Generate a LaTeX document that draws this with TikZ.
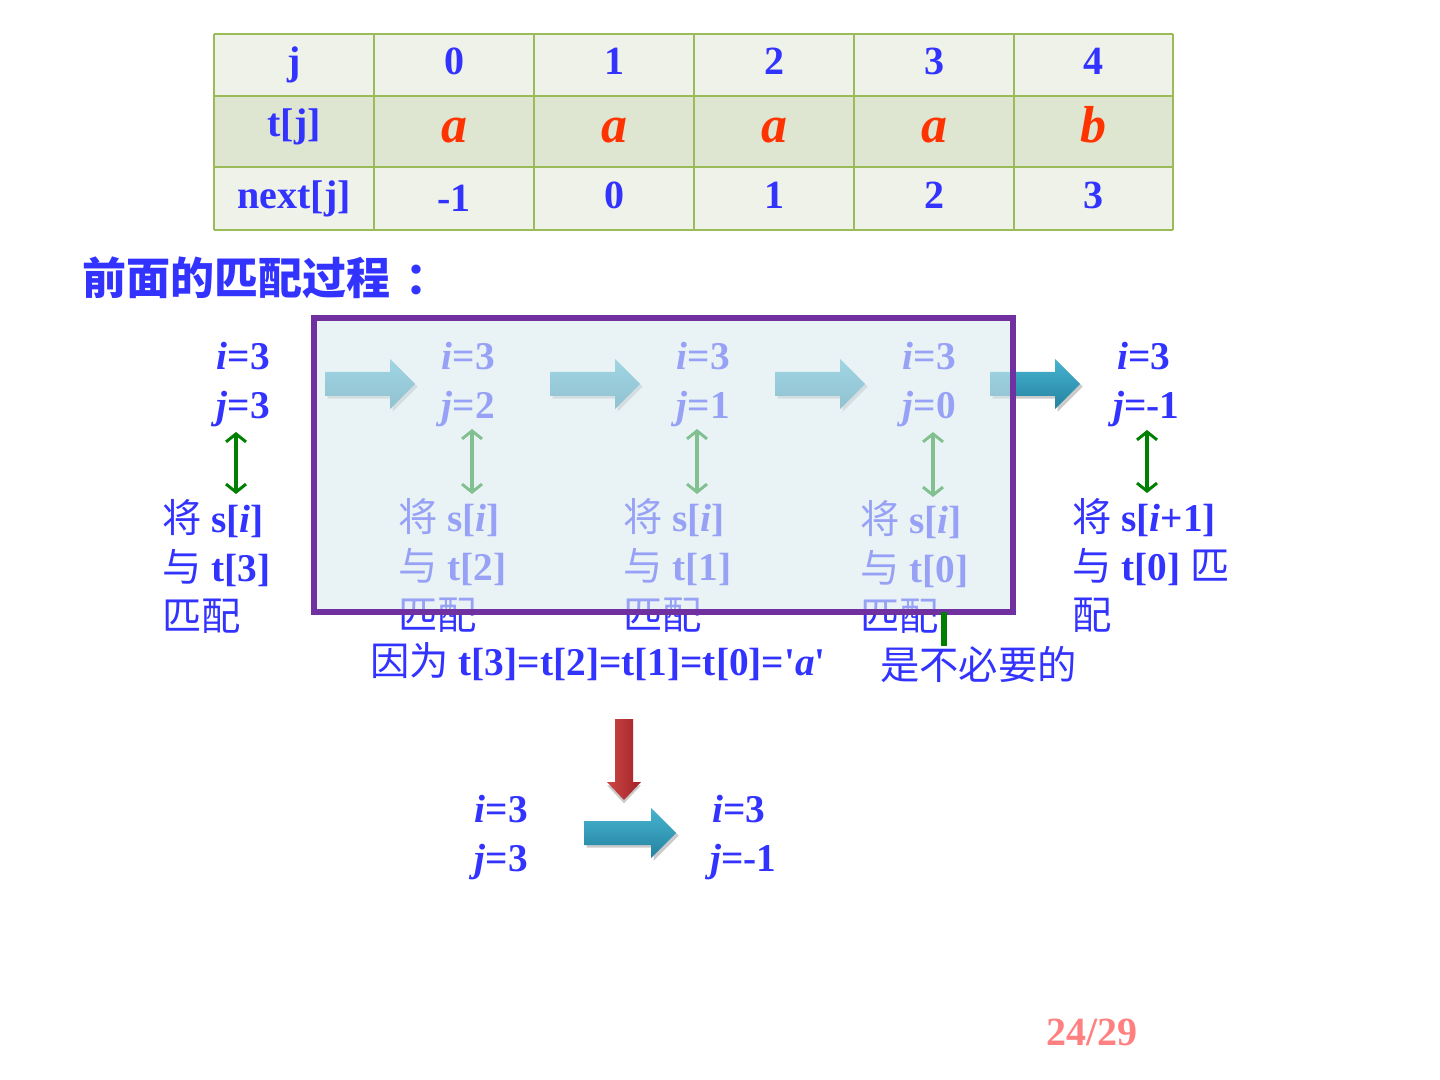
\documentclass[tikz,border=0pt]{standalone}
\usepackage{fontspec}
\setmainfont{Liberation Serif}
\newfontfamily\rmplain{Liberation Serif}
\newfontfamily\cjk{Noto Sans CJK SC}
\usetikzlibrary{arrows.meta,shadows}
\definecolor{txtblue}{RGB}{51,51,255}
\definecolor{aorange}{RGB}{255,51,0}
\definecolor{rowl}{RGB}{238,242,232}
\definecolor{rowd}{RGB}{222,229,208}
\definecolor{tabline}{RGB}{155,187,89}
\definecolor{boxpurple}{RGB}{112,48,160}
\definecolor{boxfill}{RGB}{219,236,241}
\definecolor{mgreen}{RGB}{0,128,0}
\definecolor{tealtop}{RGB}{70,180,208}
\definecolor{tealbot}{RGB}{36,130,160}
\definecolor{redtop}{RGB}{205,70,70}
\definecolor{redbot}{RGB}{160,35,40}
\definecolor{pagered}{RGB}{255,128,128}
\newcommand\zh[1]{{\cjk\mdseries #1}}
\newcommand\sq{{\rmplain\upshape '}}
\newcommand\rarr[3]{\path[tealarr] (#1,#3-12) -- (#2-25,#3-12) -- (#2-25,#3-25) -- (#2,#3) -- (#2-25,#3+25) -- (#2-25,#3+12) -- (#1,#3+12) -- cycle;}
\begin{document}
\begin{tikzpicture}[x=0.75pt,y=-0.75pt,
  tcell/.style={anchor=base,inner sep=0,text=txtblue,font=\bfseries\fontsize{30}{32}\selectfont},
  acell/.style={anchor=base,inner sep=0,text=aorange,font=\bfseries\itshape\fontsize{39}{44}\selectfont},
  body/.style={anchor=base west,inner sep=0,text=txtblue,font=\bfseries\fontsize{29.5}{36}\selectfont},
  bodyr/.style={body,anchor=base east},
  tabrule/.style={draw=tabline,line width=1.5pt},
  dbl/.style={draw=mgreen,line width=3pt,{Straight Barb[length=6pt,width=15pt,line width=2.2pt]}-{Straight Barb[length=6pt,width=15pt,line width=2.2pt]}},
  tealarr/.style={top color=tealtop,bottom color=tealbot,drop shadow={shadow xshift=2pt,shadow yshift=-2pt,fill=black!45,opacity=0.45}},
  redarr/.style={left color=redtop,right color=redbot,drop shadow={shadow xshift=0pt,shadow yshift=-2.5pt,fill=black!45,opacity=0.45}}]
\useasboundingbox (0,0) rectangle (1440,1080);
\fill[white] (0,0) rectangle (1440,1080);
% ---- table
\fill[rowl] (214,34) rectangle (1173,96);
\fill[rowd] (214,96) rectangle (1173,167);
\fill[rowl] (214,167) rectangle (1173,230);
\foreach \x in {214,374,534,694,854,1014,1173} \draw[tabrule] (\x,34) -- (\x,230);
\foreach \y in {34,96,167,230} \draw[tabrule] (214,\y) -- (1173,\y);
\node[tcell] (h0) at (294,75) {j};
\foreach \x/\t [count=\k] in {454/0,614/1,774/2,934/3,1093/4}
  \node[tcell] (h\k) at (\x,75) {\t};
\node[tcell] (t0) at (294,137) {t[j]};
\foreach \x/\t [count=\k] in {454/a,614/a,774/a,934/a,1093/b}
  \node[acell] (t\k) at (\x,143) {\t};
\node[tcell] (n0) at (294,209) {next[j]};
\node[tcell] (n1) at (454,212) {-1};
\foreach \x/\t [count=\k from 2] in {614/0,774/1,934/2,1093/3}
  \node[tcell] (n\k) at (\x,209) {\t};
% ---- title
\node[anchor=west,inner sep=0,text=txtblue,font=\cjk\bfseries\fontsize{33}{36}\selectfont] (title) at (82,278) {前面的匹配过程\kern0.35em：};
% ---- top row states
\node[bodyr] (v0i) at (270,370) {\textit{i}=3};
\node[bodyr] (v0j) at (270,419) {\textit{j}=3};
\node[bodyr] (v1i) at (495,370) {\textit{i}=3};
\node[bodyr] (v1j) at (495,419) {\textit{j}=2};
\node[bodyr] (v2i) at (730,370) {\textit{i}=3};
\node[bodyr] (v2j) at (730,419) {\textit{j}=1};
\node[bodyr] (v3i) at (956,370) {\textit{i}=3};
\node[bodyr] (v3j) at (956,419) {\textit{j}=0};
\node[body] (v4i) at (1117,370) {\textit{i}=3};
\node[body] (v4j) at (1113,419) {\textit{j}=-1};
% ---- block arrows top
\rarr{325}{415}{384}
\rarr{550}{640}{384}
\rarr{775}{865}{384}
\rarr{990}{1080}{384}
% ---- double arrows
\coordinate (a0t) at (236,432); \coordinate (a0b) at (236,494);
\coordinate (a1t) at (472,429); \coordinate (a1b) at (472,494);
\coordinate (a2t) at (697,429); \coordinate (a2b) at (697,494);
\coordinate (a3t) at (933,432); \coordinate (a3b) at (933,497);
\coordinate (a4t) at (1147,430); \coordinate (a4b) at (1147,493);
\foreach \k in {0,...,4} \draw[dbl] (a\k t) -- (a\k b);
% ---- match texts
\node[body] (m0a) at (162,533) {\zh{将} s[\textit{i}]};
\node[body] (m0b) at (162,582) {\zh{与} t[3]};
\node[body] (m0c) at (162,630) {\zh{匹配}};
\node[body] (m1a) at (398,532) {\zh{将} s[\textit{i}]};
\node[body] (m1b) at (398,581) {\zh{与} t[2]};
\node[body] (m1c) at (398,629) {\zh{匹配}};
\node[body] (m2a) at (623,532) {\zh{将} s[\textit{i}]};
\node[body] (m2b) at (623,581) {\zh{与} t[1]};
\node[body] (m2c) at (623,629) {\zh{匹配}};
\node[body] (m3a) at (860,534) {\zh{将} s[\textit{i}]};
\node[body] (m3b) at (860,583) {\zh{与} t[0]};
\node[body] (m3c) at (860,631) {\zh{匹配}};
\node[body] (m4a) at (1072,532) {\zh{将} s[\textit{i}+1]};
\node[body] (m4b) at (1072,581) {\zh{与} t[0] \zh{匹}};
\node[body] (m4c) at (1072,629) {\zh{配}};
% ---- overlay box
\fill[boxfill,opacity=0.6] (314,318) rectangle (1013,612);
\draw[boxpurple,line width=4.5pt] (314,318) rectangle (1013,612);
\coordinate (gl) at (944,612);
\coordinate (gl2) at (944,646);
\draw[mgreen,line width=4pt] (gl) -- (gl2);
% ---- explanation
\node[body] (why) at (370,676) {\zh{因为} t[3]=t[2]=t[1]=t[0]=\sq\textit{a}\sq};
\node[body] (unn) at (880,679) {\zh{是不必要的}};
% ---- red down arrow
\path[redarr] (615,719) -- (633,719) -- (633,782) -- (641,782) -- (624,800) -- (607,782) -- (615,782) -- cycle;
% ---- bottom states
\node[bodyr] (b0i) at (528,822) {\textit{i}=3};
\node[bodyr] (b0j) at (528,871) {\textit{j}=3};
\node[body] (b1i) at (712,822) {\textit{i}=3};
\node[body] (b1j) at (710,871) {\textit{j}=-1};
\rarr{584}{676}{833}
% ---- page number
\node[inner sep=0,text=pagered,font=\bfseries\fontsize{30}{32}\selectfont] (pg) at (1092,1032) {24/29};
\end{tikzpicture}
\end{document}
